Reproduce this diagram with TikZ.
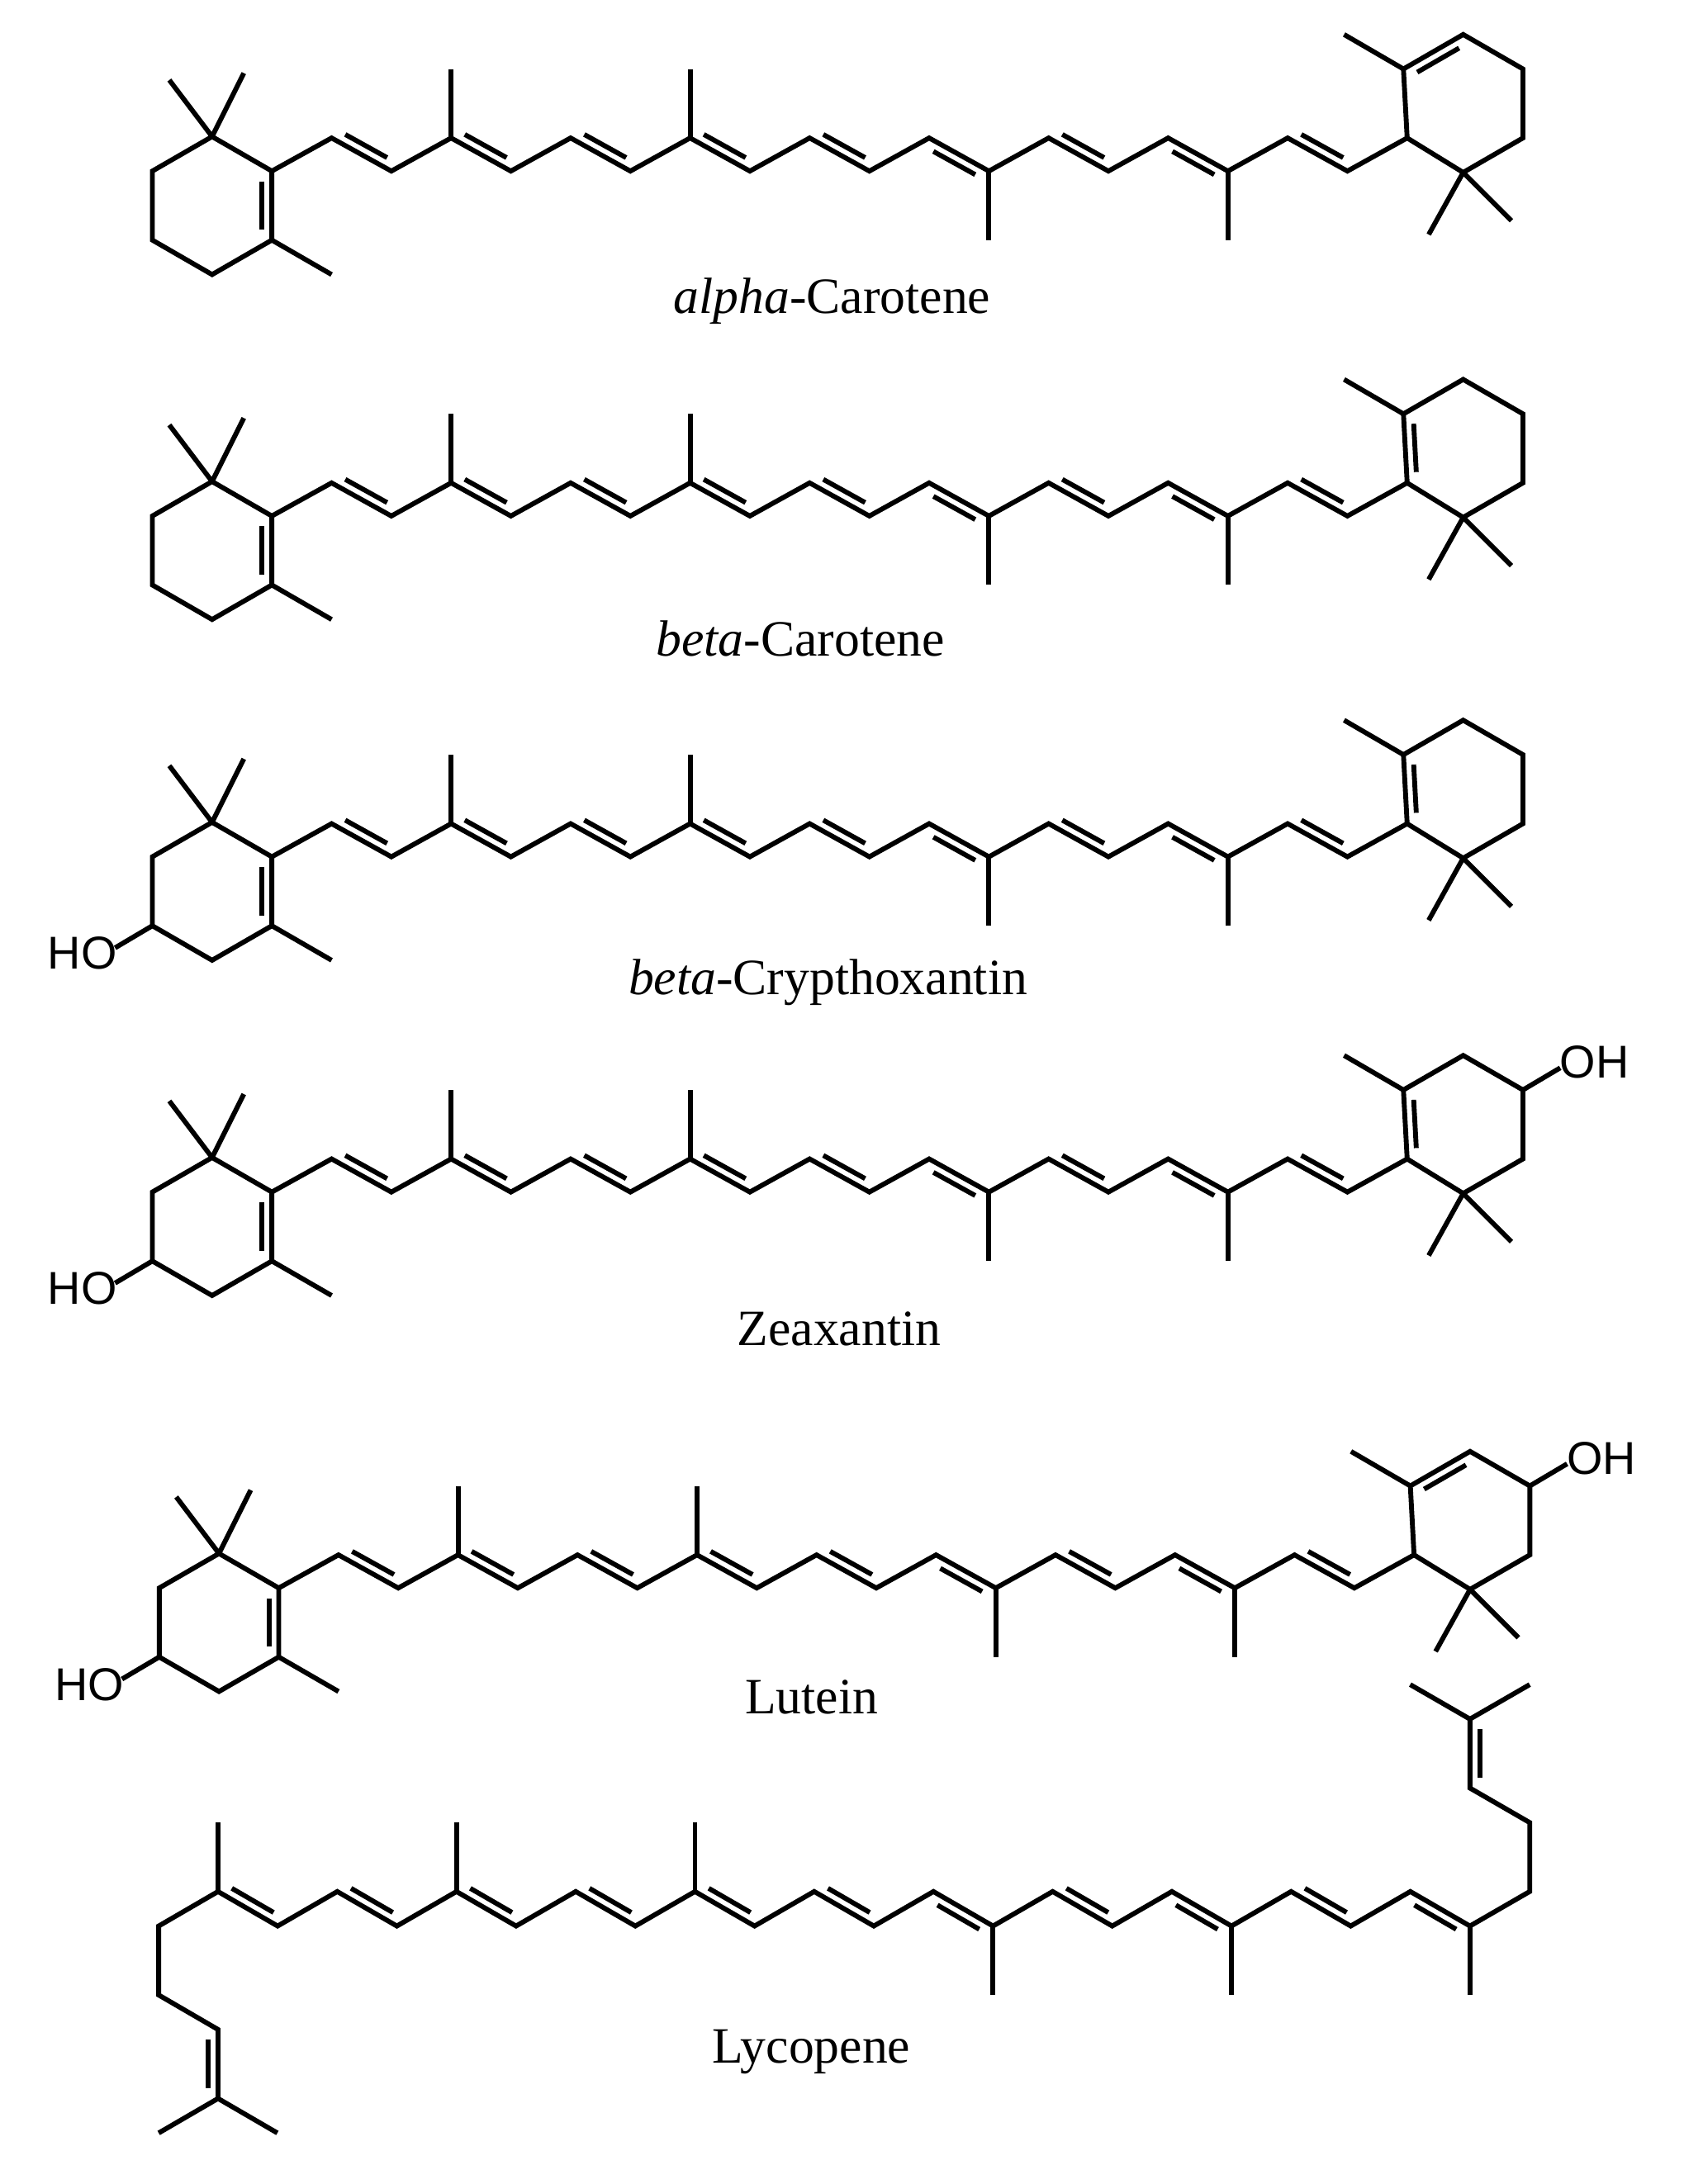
\documentclass[tikz,border=0pt]{standalone}
\usepackage{fontspec}
\setmainfont{Liberation Serif}
\newfontfamily\arial{Liberation Sans}
\usetikzlibrary{calc}
\def\dd{4pt}
\newcommand{\dbl}[3]{\draw ($(#1)!.15!(#2)!\dd!#3:(#2)$) -- ($(#2)!.15!(#1)!\dd!-#3:(#1)$);}
% polyene chain p0..p19
\newcommand{\carchain}{%
  \foreach \i in {0,...,19}{\coordinate (p\i) at ({197+43.3*\i},{112+12*cos(180*\i)});}
  \draw (p0) \foreach \i in {1,...,19}{-- (p\i)};
  \foreach \a/\b/\s in {1/2/90,3/4/90,5/6/90,7/8/90,9/10/90,11/12/-90,13/14/90,15/16/-90,17/18/90}{\dbl{p\a}{p\b}{\s}}
  \coordinate (m1) at ($(p3)+(0,-50)$); \coordinate (m2) at ($(p7)+(0,-50)$);
  \coordinate (m3) at ($(p12)+(0,50)$); \coordinate (m4) at ($(p16)+(0,50)$);
  \draw (p3)--(m1) (p7)--(m2) (p12)--(m3) (p16)--(m4);
}
% left beta ring, attached at p0
\newcommand{\leftring}[1]{%
  \coordinate (c1) at (153.7,99); \coordinate (c3) at (197,174); \coordinate (c4) at (153.7,199);
  \coordinate (c5) at (110.4,174); \coordinate (c6) at (110.4,124);
  \coordinate (g1) at ($(c1)+(-31,-41)$); \coordinate (g2) at ($(c1)+(23,-46)$); \coordinate (me) at (240.3,199);
  \draw (c1)--(p0)--(c3)--(c4)--(c5)--(c6)--cycle (c1)--(g1) (c1)--(g2) (c3)--(me);
  \dbl{p0}{c3}{-90}
  \ifx#1y \coordinate (ho) at ($(c5)+(-27,16)$); \draw (c5)--(ho);
    \node[lab, anchor=east, inner sep=0pt] (hot) at ($(ho)+(3,4)$) {HO};\fi
}
% right ring attached at p19
\newcommand{\rightring}[2]{%
  \coordinate (ra) at (1017,50); \coordinate (rb) at (1060.3,25); \coordinate (rc) at (1103.6,50);
  \coordinate (rd) at (1103.6,100); \coordinate (re) at (1060.3,125);
  \coordinate (rm) at (974,25); \coordinate (rg1) at ($(re)+(-25,45)$); \coordinate (rg2) at ($(re)+(35,35)$);
  \draw (p19)--(ra)--(rb)--(rc)--(rd)--(re)--cycle (ra)--(rm) (re)--(rg1) (re)--(rg2);
  \ifx#1a \dbl{ra}{rb}{-90}\else \dbl{ra}{p19}{90}\fi
  \ifx#2y \coordinate (oh) at ($(rc)+(27,-16)$); \draw (rc)--(oh);
    \node[lab, anchor=west, inner sep=0pt] (oht) at ($(oh)+(-2,-4)$) {OH};\fi
}
\begin{document}
\begin{tikzpicture}[x=0.02cm,y=-0.02cm,line width=2pt,line cap=butt,line join=miter,
  lab/.style={font=\arial\fontsize{19}{22}\selectfont},
  molname/.style={font=\fontsize{21}{25}\selectfont}]
\useasboundingbox (0,0) rectangle (1220,1583);
\begin{scope}
  \carchain \leftring{n} \rightring{a}{n}
  \node[molname] (n1) at (603,218) {\textit{alpha}-Carotene};
\end{scope}
\begin{scope}[shift={(0,250)}]
  \carchain \leftring{n} \rightring{b}{n}
  \node[molname] (n2) at (580,213) {\textit{beta}-Carotene};
\end{scope}
\begin{scope}[shift={(0,497)}]
  \carchain \leftring{y} \rightring{b}{n}
  \node[molname] (n3) at (600,215) {\textit{beta}-Crypthoxantin};
\end{scope}
\begin{scope}[shift={(0,740)}]
  \carchain \leftring{y} \rightring{b}{y}
  \node[molname] (n4) at (608,223) {Zeaxantin};
\end{scope}
\begin{scope}[shift={(5,1027)}]
  \carchain \leftring{y} \rightring{a}{y}
  \node[molname] (n5) at (583,203) {Lutein};
\end{scope}
% Lycopene
\foreach \i in {0,...,21}{\coordinate (q\i) at ({158+43.2*\i},{1383.5+12.5*cos(180*\i+180)});}
\draw (q0) \foreach \i in {1,...,21}{-- (q\i)};
\foreach \a/\b/\s in {0/1/90,2/3/90,4/5/90,6/7/90,8/9/90,10/11/90,12/13/-90,14/15/90,16/17/-90,18/19/90,20/21/-90}{\dbl{q\a}{q\b}{\s}}
\foreach \i in {0,4,8}{\draw (q\i) -- ++(0,-50);}
\foreach \i in {13,17,21}{\draw (q\i) -- ++(0,50);}
\coordinate (l1) at (115,1396); \coordinate (l2) at (115,1446); \coordinate (l3) at (158,1471);
\coordinate (l4) at (158,1521); \coordinate (l5) at (115,1546); \coordinate (l6) at (201,1546);
\draw (q0)--(l1)--(l2)--(l3)--(l4)--(l5) (l4)--(l6);
\dbl{l3}{l4}{-90}
\coordinate (r1) at ($(q21)+(43.3,-25)$); \coordinate (r2) at ($(r1)+(0,-50)$); \coordinate (r3) at ($(r2)+(-43.3,-25)$);
\coordinate (r4) at ($(r3)+(0,-50)$); \coordinate (r5) at ($(r4)+(-43.3,-25)$); \coordinate (r6) at ($(r4)+(43.3,-25)$);
\draw (q21)--(r1)--(r2)--(r3)--(r4)--(r5) (r4)--(r6);
\dbl{r3}{r4}{-90}
\node[molname] (n6) at (588,1487) {Lycopene};
\end{tikzpicture}
\end{document}
